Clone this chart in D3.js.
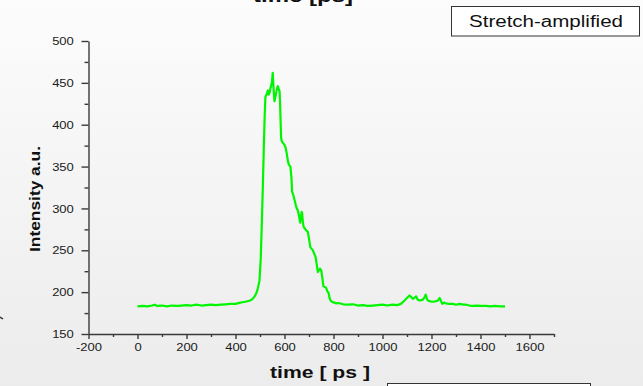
<!DOCTYPE html>
<html>
<head>
<meta charset="utf-8">
<script src="https://cdn.jsdelivr.net/npm/d3@7"></script>
<style>
	html, body { margin: 0; padding: 0; overflow: hidden; }
	svg { display: block; font-family: "Liberation Sans", Arial, sans-serif; }
	.axis path, .axis line { stroke: #3a3a3a; stroke-width: 1.4; }
	.axis text { fill: #1a1a1a; font-size: 11.5px; }
</style>
</head>
<body>
<svg id="chart"></svg>
<script>
// time axis of the trace (ps)
var timePs = [0, 20, 40, 60, 70, 80, 100, 120, 140, 160, 180, 200, 220, 240, 260, 280, 300, 320, 340, 360,
	380, 400, 420, 440, 460, 470, 478, 484, 490, 498, 503, 507, 512, 516, 519, 522, 527, 532, 536, 539,
	543, 546, 549, 552, 555, 559, 562, 566, 570, 573, 577, 580, 582, 584, 586, 589, 594, 600, 605, 609,
	613, 618, 624, 628, 631, 636, 641, 646, 650, 654, 658, 661, 664, 667, 670, 672, 675, 678, 683, 688,
	695, 700, 705, 710, 716, 721, 727, 731, 736, 740, 745, 750, 755, 759, 765, 770, 775, 780, 784, 788,
	796, 804, 811, 820, 840, 860, 880, 900, 920, 940, 960, 980, 1000, 1020, 1040, 1060, 1075, 1090, 1100, 1110,
	1118, 1124, 1131, 1137, 1144, 1151, 1158, 1165, 1172, 1176, 1180, 1185, 1195, 1205, 1215, 1226, 1233, 1238, 1244, 1251,
	1260, 1270, 1287, 1300, 1314, 1330, 1342, 1355, 1369, 1385, 1400, 1423, 1440, 1460, 1480, 1500];
// intensity (a.u.)
var intensity = [183, 183.5, 183, 184, 185, 183.5, 184, 183, 184, 183.5, 184, 184.5, 184, 185, 184, 184.5, 185, 184.5, 185, 185.5,
	186, 186, 187.5, 188.5, 190, 192, 195, 198, 203, 214, 240, 278, 330, 378, 410, 433, 436, 441, 436, 438,
	444, 447, 452, 462, 445, 428, 432, 438, 444, 446, 442, 440, 425, 405, 385, 380, 378, 376, 372, 366,
	358, 352, 350, 338, 320, 316, 310, 304, 300, 298, 293, 288, 283, 289, 296, 294, 284, 278, 276, 274,
	272, 264, 254, 252, 250, 246, 242, 234, 224, 226, 228, 226, 216, 207, 206, 205, 201, 199, 193, 190,
	188, 187.5, 186.5, 187, 185.5, 185, 185.5, 184, 184.5, 183.5, 184, 184.5, 185, 184, 185, 184.5, 186, 190, 193, 196,
	194, 192, 193.5, 195, 191, 190, 190.5, 191, 194, 197, 193, 190, 189, 188.5, 189, 190, 193, 190, 186, 187.5,
	186.5, 186, 186, 185, 186, 185, 185, 184, 183.5, 184, 183.5, 183.5, 183, 183.5, 183, 183];

var xMajorTicks = [-200, 0, 200, 400, 600, 800, 1000, 1200, 1400, 1600];
var xMinorTicks = [-100, 100, 300, 500, 700, 900, 1100, 1300, 1500, 1700];
var yMajorTicks = [150, 200, 250, 300, 350, 400, 450, 500];
var yMinorTicks = [175, 225, 275, 325, 375, 425, 475];

var xLabel = 'time [ ps ]';
var topLabel = 'time [ps]';
var yLabel = 'Intensity a.u.';
var legendText = 'Stretch-amplified';

var svgWidth = 643, svgHeight = 386;
var textStretch = 1.13;

var svg = d3.select('#chart')
	.attr('width', svgWidth)
	.attr('height', svgHeight);

var defs = svg.append('defs');
var grad = defs.append('linearGradient')
	.attr('id', 'bg-grad')
	.attr('x1', 0).attr('y1', 0).attr('x2', 0).attr('y2', 1);
grad.append('stop').attr('offset', '0%').attr('stop-color', '#fcfcfc');
grad.append('stop').attr('offset', '100%').attr('stop-color', '#ececec');

svg.append('rect')
	.attr('width', svgWidth)
	.attr('height', svgHeight)
	.attr('fill', 'url(#bg-grad)');

var x = d3.scaleLinear().domain([-200, 1700]).range([88.5, 554]);
var y = d3.scaleLinear().domain([150, 500]).range([334, 41]);

// plain hyphen for negatives, like the original
var plainFormat = function(d){ return String(d); };

// minor ticks first, then the labelled axis on top
svg.append('g')
	.attr('class', 'axis')
	.attr('transform', 'translate(0,' + y(150) + ')')
	.call(d3.axisBottom(x).tickValues(xMinorTicks).tickSize(3).tickFormat(''))
	.select('.domain').remove();

var xAxis = svg.append('g')
	.attr('class', 'axis')
	.attr('transform', 'translate(0,' + y(150) + ')')
	.call(d3.axisBottom(x).tickValues(xMajorTicks).tickSize(5).tickSizeOuter(0).tickPadding(4).tickFormat(plainFormat));

svg.append('g')
	.attr('class', 'axis')
	.attr('transform', 'translate(' + x(-200) + ',0)')
	.call(d3.axisLeft(y).tickValues(yMinorTicks).tickSize(4).tickFormat(''))
	.select('.domain').remove();

var yAxis = svg.append('g')
	.attr('class', 'axis')
	.attr('transform', 'translate(' + x(-200) + ',0)')
	.call(d3.axisLeft(y).tickValues(yMajorTicks).tickSize(7).tickSizeOuter(0).tickPadding(6).tickFormat(plainFormat));

//the original picture is a bit wider than tall, so stretch the tick text
xAxis.selectAll('text').attr('transform', 'scale(' + textStretch + ',1)');
yAxis.selectAll('text').attr('transform', 'scale(' + textStretch + ',1)');

var points = timePs.map(function(t, i){ return [t, intensity[i]]; });
var line = d3.line()
	.x(function(d){ return x(d[0]); })
	.y(function(d){ return y(d[1]); });

svg.append('path')
	.datum(points)
	.attr('fill', 'none')
	.attr('stroke', '#00f500')
	.attr('stroke-width', 2.2)
	.attr('stroke-linejoin', 'round')
	.attr('d', line);

// labels
svg.append('text')
	.attr('x', 320).attr('y', 378)
	.attr('text-anchor', 'middle')
	.attr('font-weight', 'bold')
	.attr('font-size', 16.5)
	.attr('textLength', 100)
	.attr('lengthAdjust', 'spacingAndGlyphs')
	.attr('fill', '#111')
	.text(xLabel);

// title sits mostly above the page edge in the original
svg.append('text')
	.attr('x', 303).attr('y', 2)
	.attr('text-anchor', 'middle')
	.attr('font-weight', 'bold')
	.attr('font-size', 18)
	.attr('textLength', 100)
	.attr('lengthAdjust', 'spacingAndGlyphs')
	.attr('fill', '#111')
	.text(topLabel);

svg.append('text')
	.attr('transform', 'translate(40,199) rotate(-90)')
	.attr('text-anchor', 'middle')
	.attr('font-weight', 'bold')
	.attr('font-size', 14)
	.attr('textLength', 106)
	.attr('lengthAdjust', 'spacingAndGlyphs')
	.attr('fill', '#111')
	.text(yLabel);

// legend box
svg.append('rect')
	.attr('x', 451.5).attr('y', 6.5)
	.attr('width', 188).attr('height', 29.5)
	.attr('fill', '#fff')
	.attr('stroke', '#333')
	.attr('stroke-width', 1);
svg.append('text')
	.attr('x', 546).attr('y', 27)
	.attr('text-anchor', 'middle')
	.attr('font-size', 16)
	.attr('textLength', 154)
	.attr('lengthAdjust', 'spacingAndGlyphs')
	.attr('fill', '#111')
	.text(legendText);

// empty box cut off at the bottom edge
svg.append('rect')
	.attr('x', 387.5).attr('y', 383.5)
	.attr('width', 203).attr('height', 20)
	.attr('fill', '#fff')
	.attr('stroke', '#333')
	.attr('stroke-width', 1);

// stray mark at the left edge
svg.append('path')
	.attr('d', 'M0,317 L3,319')
	.attr('stroke', '#333')
	.attr('stroke-width', 1.5);
</script>
</body>
</html>
